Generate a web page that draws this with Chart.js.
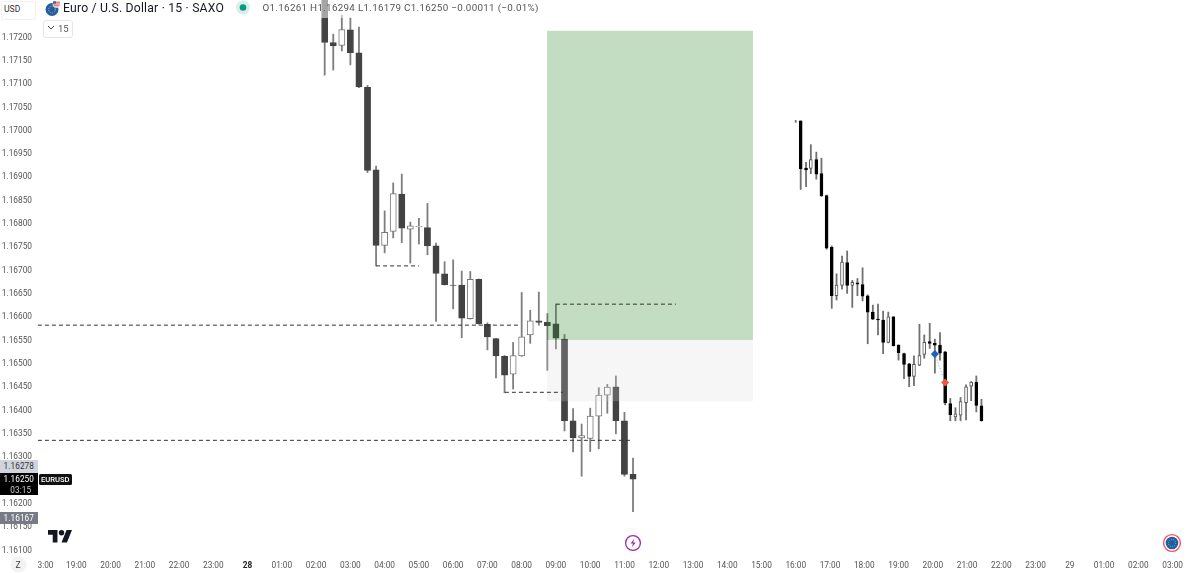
<!DOCTYPE html>
<html><head><meta charset="utf-8">
<script src="https://cdn.jsdelivr.net/npm/chart.js@4"></script>
<style>
html,body{margin:0;padding:0;background:#fff;overflow:hidden}
#wrap{position:relative;width:1200px;height:573px;overflow:hidden}
canvas{position:absolute;left:0;top:0}
.t{position:absolute;white-space:nowrap;font-family:Roboto,sans-serif;line-height:1}
.b{position:absolute;left:0;width:37.5px;text-align:center;font:8.2px/1 Roboto,sans-serif;letter-spacing:.1px}
svg{position:absolute}
</style></head><body><div id="wrap"><canvas id="c" width="1200" height="573"></canvas>
<div style="position:absolute;left:240px;top:0;width:300px;height:18px;background:rgba(255,255,255,.52)"></div>
<div style="position:absolute;left:1px;top:1px;width:33px;height:17px;background:#fff;border:1px solid #f0f0f0;border-radius:3px"></div>
<span class="t" style="left:4px;top:5px;font-size:8.6px;color:#333">USD</span>
<svg style="left:44px;top:0" width="17" height="17" viewBox="0 0 17 17"><circle cx="8" cy="9.5" r="6.5" fill="#1f5fa8"/><circle cx="8" cy="9.5" r="3.4" fill="none" stroke="#d9b54a" stroke-width="1" stroke-dasharray="1 1.2"/><circle cx="12.5" cy="4" r="3.8" fill="#fff"/><path d="M9 2.2h7M9 4h7M9.6 5.8h5.8" stroke="#e0484d" stroke-width="1"/><rect x="9" y="1.4" width="3" height="2.2" fill="#2b5fb0"/></svg>
<span class="t" style="left:63px;top:2px;font-size:12.2px;letter-spacing:.2px;color:#131722">Euro / U.S. Dollar · 15 · SAXO</span>
<svg style="left:235px;top:0" width="16" height="16"><circle cx="8" cy="7.5" r="7" fill="#d8f0ea"/><circle cx="8" cy="7.5" r="3.3" fill="#089981"/></svg>
<span class="t" style="left:262.5px;top:3px;font-size:9.8px;letter-spacing:.31px;color:#555">O1.16261  H1.16294  L1.16179  C1.16250  −0.00011 (−0.01%)</span>
<div style="position:absolute;left:43px;top:20px;width:28px;height:16px;border:1px solid #e6e6e6;border-radius:3px;background:#fff"></div>
<svg style="left:47px;top:25px" width="8" height="6"><path d="M1 1l3 3 3-3" fill="none" stroke="#444" stroke-width="1"/></svg>
<span class="t" style="left:58px;top:24px;font-size:9.5px;color:#555">15</span>
<div class="b" style="top:460px;height:13px;line-height:13px;background:#d1d4dc;color:#333">1.16278</div>
<div style="position:absolute;left:0;top:473px;width:37.5px;height:22px;background:#000"></div>
<div class="b" style="top:475px;color:#fff">1.16250</div>
<div class="b" style="top:486px;color:#ccc;padding-left:2px">03:15</div>
<div style="position:absolute;left:38.5px;top:474px;width:33px;height:11px;background:#111;border-radius:1.5px"></div>
<span class="t" style="left:41px;top:476px;font-size:7.6px;font-weight:500;color:#fff">EURUSD</span>
<div class="b" style="top:512px;height:12px;line-height:12px;background:#787b86;color:#fff">1.16167</div>
<svg style="left:47.5px;top:530px" width="24" height="12.5" viewBox="0 4 35.5 18" preserveAspectRatio="none"><path d="M14 22H7V11H0V4h14v18zM28 22h-8l7.5-18h8L28 22z" fill="#131722"/><circle cx="20" cy="8" r="4" fill="#131722"/></svg>
<svg style="left:10px;top:556px" width="17" height="17"><circle cx="8.5" cy="8.5" r="8" fill="#f3f3f3"/></svg>
<span class="t" style="left:15.5px;top:561px;font-size:8.6px;color:#444">Z</span>
<svg style="left:624px;top:534px" width="18" height="18" viewBox="0 0 18 18"><circle cx="9" cy="9" r="7.4" fill="#fff" stroke="#9c27b0" stroke-width="1.3"/><path d="M10.2 4.8L6.6 9.5h2.4l-1 3.7 3.7-4.8H9.2z" fill="#9c27b0"/></svg>
<svg style="left:1162px;top:533px" width="20" height="20" viewBox="0 0 20 20"><circle cx="10" cy="10" r="8.4" fill="#fff" stroke="#f2505e" stroke-width="1.4"/><circle cx="10" cy="10" r="6.3" fill="#1f5fa8"/><circle cx="10" cy="10" r="3.6" fill="none" stroke="#c9b24a" stroke-width="1" stroke-dasharray="1 1.2"/></svg>
</div>
<script>
const yTicks=[1.172,1.1715,1.171,1.1705,1.17,1.1695,1.169,1.1685,1.168,1.1675,1.167,1.1665,1.166,1.1655,1.165,1.1645,1.164,1.1635,1.163,1.1625,1.162,1.1615,1.161];
const hourTicks=[-6,-5,-4,-3,-2,-1,0,1,2,3,4,5,6,7,8,9,10,11,12,13,14,15,16,17,18,19,20,21,22,23,24,25,26,27];
const timeLabels=['3:00','19:00','20:00','21:00','22:00','23:00','28','01:00','02:00','03:00','04:00','05:00','06:00','07:00','08:00','09:00','10:00','11:00','12:00','13:00','14:00','15:00','16:00','17:00','18:00','19:00','20:00','21:00','22:00','23:00','29','01:00','02:00','03:00'];

const leftHours=[2.25,2.5,2.75,3,3.25,3.5,3.75,4,4.25,4.5,4.75,5,5.25,5.5,5.75,6,6.25,6.5,6.75,7,7.25,7.5,7.75,8,8.25,8.5,8.75,9,9.25,9.5,9.75,10,10.25,10.5,10.75,11,11.25];
const leftOpen=[1.1729,1.17186,1.1718,1.17213,1.17164,1.1709,1.16913,1.16751,1.16781,1.16861,1.16786,1.16791,1.16789,1.1675,1.1669,1.16666,1.16666,1.16594,1.16678,1.16582,1.16551,1.16513,1.16475,1.16514,1.16559,1.16589,1.16586,1.16583,1.1655,1.16375,1.16338,1.16337,1.16385,1.1643,1.16448,1.16375,1.1626];
const leftHigh=[1.17299,1.17204,1.17245,1.17239,1.17219,1.17094,1.16921,1.16825,1.16885,1.16904,1.16801,1.16809,1.16841,1.16756,1.16716,1.1672,1.16696,1.16695,1.16679,1.16585,1.16552,1.16515,1.16543,1.1665,1.16612,1.16651,1.16605,1.16625,1.1656,1.16401,1.16368,1.16402,1.16446,1.16453,1.16471,1.16393,1.16295];
const leftLow=[1.17116,1.17127,1.17168,1.17138,1.17089,1.16907,1.16707,1.16735,1.16767,1.16757,1.16713,1.16754,1.16731,1.16588,1.16666,1.16615,1.16553,1.16593,1.16582,1.16527,1.16467,1.16435,1.16443,1.16513,1.16541,1.1658,1.16483,1.16529,1.16353,1.16308,1.16256,1.16309,1.16315,1.16391,1.16347,1.16256,1.1618];
const leftClose=[1.17186,1.17179,1.17214,1.17164,1.17091,1.16912,1.16751,1.16779,1.16862,1.16788,1.16793,1.16792,1.1675,1.16691,1.16667,1.16665,1.16595,1.16678,1.16583,1.16555,1.16514,1.16473,1.16515,1.16555,1.16589,1.16586,1.16579,1.16552,1.16375,1.16338,1.16343,1.16385,1.1643,1.16447,1.16375,1.1626,1.1625];

const rightHours=[15.998,16.144,16.3,16.44,16.6,16.75,16.9,17.05,17.19,17.35,17.5,17.65,17.8,17.95,18.1,18.25,18.4,18.55,18.7,18.85,19,19.16,19.31,19.45,19.61,19.75,19.91,20.06,20.21,20.36,20.51,20.66,20.81,20.97,21.12,21.27,21.42];
const rightOpen=[1.17018,1.17018,1.16917,1.16916,1.16935,1.16905,1.16858,1.16747,1.16643,1.16665,1.16714,1.16665,1.16671,1.16667,1.16643,1.16608,1.16593,1.16591,1.16543,1.16598,1.16537,1.16519,1.16497,1.1647,1.16494,1.16517,1.16545,1.16541,1.16537,1.16523,1.16412,1.16383,1.16387,1.16414,1.16449,1.16458,1.16407];
const rightHigh=[1.17019,1.17018,1.16929,1.16967,1.16951,1.16938,1.16859,1.1675,1.1669,1.16728,1.16739,1.16676,1.1668,1.16703,1.16645,1.16623,1.16625,1.1661,1.16608,1.16599,1.16538,1.1652,1.16498,1.16514,1.16582,1.16559,1.16584,1.1655,1.16564,1.16524,1.16423,1.16403,1.16425,1.16452,1.16459,1.16471,1.16421];
const rightLow=[1.17015,1.16871,1.16877,1.16905,1.16893,1.16856,1.16743,1.16616,1.16634,1.16657,1.16648,1.16618,1.16643,1.16632,1.1654,1.16592,1.16559,1.16519,1.16542,1.16535,1.16505,1.16465,1.16448,1.1645,1.16493,1.16509,1.1653,1.16477,1.16505,1.16409,1.16375,1.16375,1.16375,1.16377,1.16418,1.16394,1.16374];
const rightClose=[1.17016,1.16915,1.16913,1.16935,1.16904,1.16857,1.16745,1.16643,1.16666,1.16715,1.16665,1.16672,1.16668,1.16642,1.16608,1.16593,1.16591,1.16543,1.16598,1.16536,1.16521,1.16496,1.1647,1.16496,1.16515,1.16543,1.16541,1.16537,1.1652,1.16413,1.16388,1.1639,1.16416,1.16448,1.16458,1.16408,1.16375];

const dashedLevels=[1.1658,1.16333,1.16707,1.16436,1.16625];
const dashedFrom=[-6.12,-6.12,3.75,7.51,9];
const dashedTo=[7.95,11.18,5,9.2,12.5];
const targetZone=[8.74,14.75,1.17211,1.16548];
const stopZone=[8.74,14.75,1.16548,1.16417];
const tradeHours=[20.06,20.36];
const tradePrices=[1.16518,1.16457];

const XMIN=-6.147,XMAX=27.799,YMIN=1.16085,YMAX=1.172772;
const pairs=(xs,a,b)=>xs.map((x,i)=>({x,y:[a[i],b[i]]}));
const rising=(o,c)=>o.map((v,i)=>c[i]>v);
const leftUp=rising(leftOpen,leftClose),rightUp=rising(rightOpen,rightClose);
const wick=(xs,h,l,col,order)=>({type:'bar',data:pairs(xs,h,l),barThickness:1.15,backgroundColor:col,borderWidth:0,order,grouped:false});
const body=(xs,o,c,up,w,dn,edge,order)=>({type:'bar',data:pairs(xs,o,c),barThickness:w,
  backgroundColor:up.map(u=>u?'#fff':dn),borderColor:up.map(u=>u?edge:dn),borderWidth:1,borderSkipped:false,order,grouped:false});
const zone=(z,col)=>({type:'line',data:[{x:z[0],y:z[2]},{x:z[1],y:z[2]}],fill:{value:z[3]},backgroundColor:col,borderWidth:0,pointRadius:0,order:3,tension:0});
const dashes=dashedLevels.map((p,i)=>({type:'line',data:[{x:dashedFrom[i],y:p},{x:dashedTo[i],y:p}],borderColor:'#333',borderWidth:1,borderDash:[4,3],pointRadius:0,fill:false,order:1}));
const noPad=s=>{s.paddingLeft=s.paddingRight=s.paddingTop=s.paddingBottom=0;};

new Chart(document.getElementById('c'),{
  type:'bar',
  data:{datasets:[
    wick(leftHours,leftHigh,leftLow,'#7e7e7e',8),
    body(leftHours,leftOpen,leftClose,leftUp,6.2,'#434343','#777',7),
    wick(rightHours,rightHigh,rightLow,'#707070',6),
    body(rightHours.slice(1),rightOpen.slice(1),rightClose.slice(1),rightUp.slice(1),3,'#000','#555',5),
    zone(targetZone,'rgba(48,137,48,.29)'),
    zone(stopZone,'rgba(212,212,212,.22)'),
    ...dashes,
    {type:'line',data:tradeHours.map((x,i)=>({x,y:tradePrices[i]})),borderColor:'#6aaee8',borderWidth:1,borderDash:[1,2],
     pointStyle:'rectRot',pointRadius:4,pointBackgroundColor:['#1565c0','#f0563e'],pointBorderWidth:0,fill:false,order:0}
  ]},
  options:{
    responsive:false,animation:false,
    layout:{padding:0,autoPadding:false},
    plugins:{legend:{display:false},tooltip:{enabled:false},title:{display:false}},
    scales:{
      x:{type:'linear',min:XMIN,max:XMAX,offset:false,grid:{display:false,drawTicks:false},border:{display:false},
        afterFit(s){s.height=17;noPad(s);},
        afterBuildTicks(s){s.ticks=hourTicks.map((v,i)=>({value:i===0?v+.1:v,label:timeLabels[i]}));},
        afterTickToLabelConversion(s){s.ticks.forEach((t,i)=>{t.label=timeLabels[i];});},
        ticks:{autoSkip:false,maxRotation:0,minRotation:0,padding:4.5,color:c=>(c.tick&&(c.tick.label==='28'))?'#222':'#555',
          font:c=>({family:'Roboto',size:8.3,weight:(c.tick&&c.tick.label==='28')?'700':'400'})}},
      y:{type:'linear',min:YMIN,max:YMAX,position:'left',grid:{display:false,drawTicks:false},border:{display:false},
        afterFit(s){s.width=37;noPad(s);},
        afterBuildTicks(s){s.ticks=yTicks.map(v=>({value:v}));},
        ticks:{autoSkip:false,padding:5,labelOffset:1.5,color:'#555',font:{family:'Roboto',size:8.3},callback:v=>Number(v).toFixed(5)}}
    }
  }
});
</script></body></html>
